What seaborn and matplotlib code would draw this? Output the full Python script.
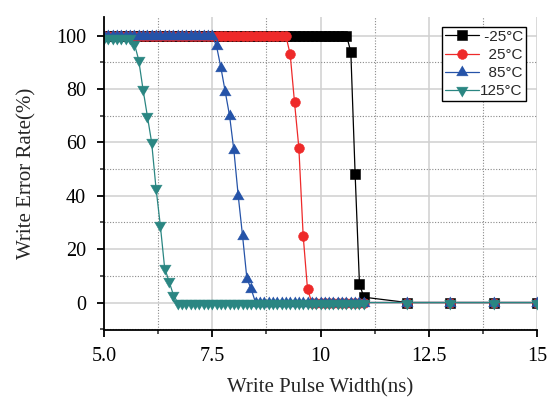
import pandas as pd
import matplotlib
matplotlib.use("Agg")
import matplotlib.pyplot as plt
import seaborn as sns
from matplotlib.ticker import MultipleLocator

# =========================
# Data
# =========================
pulse_fine = [round(5.0 + 0.1 * i, 1) for i in range(61)]   # 5.0 .. 11.0 ns
pulse_coarse = [12, 13, 14, 15]
pulse_width = pulse_fine + pulse_coarse

labels = ["-25°C", "25°C", "85°C", "125°C"]
legend_text = [" -25°C", "  25°C", "  85°C", "125°C"]   # padded so they line up on the right

wer_m25 = [100] * 57 + [94, 48, 7, 2] + [0] * 4
wer_25 = [100] * 43 + [93, 75, 58, 25, 5] + [0] * 13 + [0] * 4
wer_85 = [100] * 26 + [96, 88, 79, 70, 57, 40, 25, 9, 5] + [0] * 26 + [0] * 4
wer_125 = [99] * 7 + [97, 91, 80, 70, 60, 43, 29, 13, 8, 3] + [0] * 44 + [0] * 4

series = [wer_m25, wer_25, wer_85, wer_125]
colors = ["#000000", "#ee2a2a", "#2553a8", "#2a8682"]

# triangles centred on their centroid (like the original software does)
tri_up = [(0, 1), (-0.866, -0.5), (0.866, -0.5)]
tri_down = [(0, -1), (-0.866, 0.5), (0.866, 0.5)]
markers = ["s", "o", tri_up, tri_down]
msizes = [6.6, 7.0, 9.6, 9.6]

df = pd.concat(
    [pd.DataFrame({"Pulse": pulse_width, "WER": s, "Temp": lab})
     for s, lab in zip(series, labels)],
    ignore_index=True,
)

# =========================
# Plot
# =========================
sns.set_style("ticks")
plt.rcParams["font.family"] = ["Liberation Serif", "DejaVu Serif"]

fig = plt.figure(figsize=(5.59, 4.01), dpi=100)
ax = fig.add_axes([104 / 559, 1 - 330 / 401, (537 - 104) / 559, (330 - 17) / 401])

for lab, col, mk, ms in zip(labels, colors, markers, msizes):
    sns.lineplot(data=df[df["Temp"] == lab], x="Pulse", y="WER", ax=ax,
                 color=col, marker=mk, markersize=ms, markeredgewidth=0.4,
                 markeredgecolor=col, linewidth=0.9, label=lab,
                 estimator=None, sort=False)

ax.set_xlim(5, 15)
ax.set_ylim(-10.3, 107)
ax.xaxis.set_minor_locator(MultipleLocator(1.25))
ax.yaxis.set_major_locator(MultipleLocator(20))
ax.yaxis.set_minor_locator(MultipleLocator(10))
ax.set_xticks([5, 7.5, 10, 12.5, 15])
ax.set_xticklabels(["5.0", "7.5", "10", "12.5", "15"])

ax.grid(which="major", color="#d0d0d0", linestyle="-", linewidth=1.1)
ax.grid(which="minor", color="#8a8a8a", linestyle=(0, (1, 1.5)), linewidth=0.8)
ax.set_axisbelow(True)

sns.despine(ax=ax)
for sp in ["left", "bottom"]:
    ax.spines[sp].set_linewidth(1.3)
    ax.spines[sp].set_color("black")

ax.tick_params(which="major", direction="out", length=5, width=1.3,
               labelsize=14.5, colors="black")
ax.tick_params(axis="y", which="major", pad=8)
ax.tick_params(axis="x", which="major", pad=7)
ax.tick_params(which="minor", direction="out", length=3, width=1.1)

ax.set_xlabel("Write Pulse Width(ns)", fontsize=15, labelpad=9)
ax.set_ylabel("Write Error Rate(%)", fontsize=15, labelpad=14)

handles, _ = ax.get_legend_handles_labels()
leg = ax.legend(handles, legend_text, loc="upper right",
                bbox_to_anchor=(0.975, 0.968), borderaxespad=0,
                frameon=True, fancybox=False, edgecolor="black",
                framealpha=1, handlelength=2.2, handletextpad=0.1,
                labelspacing=0.27, borderpad=0.18, markerscale=1.0,
                prop={"family": "Liberation Sans", "size": 11})
leg.get_frame().set_linewidth(1.0)

fig.savefig("out.png", dpi=100)
